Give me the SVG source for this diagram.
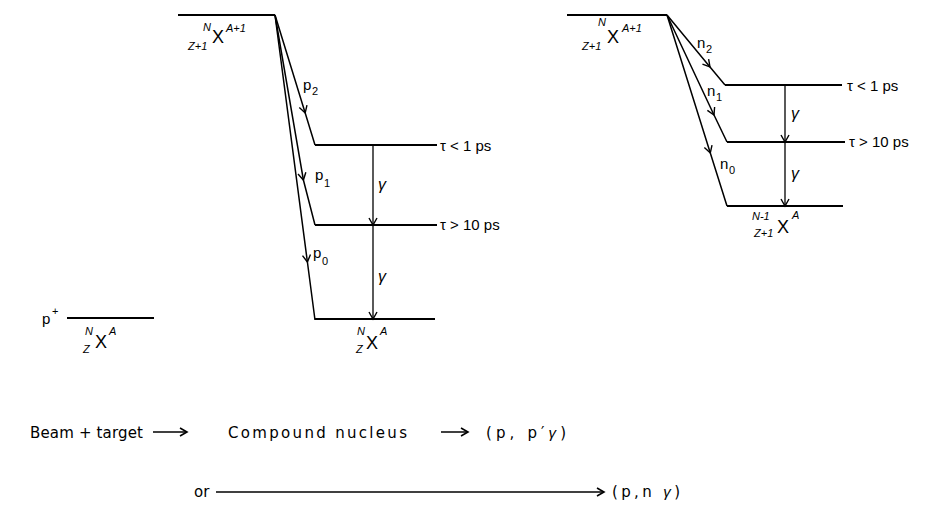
<svg xmlns="http://www.w3.org/2000/svg" width="926" height="512" viewBox="0 0 926 512">
<style>
.lvl{stroke:#000;stroke-width:2;fill:none}
.tr{stroke:#000;stroke-width:1.5;fill:none;marker-mid:url(#chev)}
.gm{stroke:#000;stroke-width:1.3;fill:none;marker-end:url(#chev)}
text{font-family:"Liberation Sans","DejaVu Sans",sans-serif;fill:#000}
.big{font-size:18px}
.sm{font-size:11px;font-style:italic}
.lab{font-size:15px}
.gl{font-size:16px;font-style:italic}
.eq{font-size:15px;font-family:"DejaVu Sans","Liberation Sans",sans-serif}
</style>
<defs>
<marker id="chev" markerUnits="userSpaceOnUse" markerWidth="14" markerHeight="14" viewBox="-10 -7 14 14" refX="0" refY="0" orient="auto">
<path d="M-7,-4 L0,0 L-7,4" fill="none" stroke="#000" stroke-width="1.4"/>
</marker>
<marker id="head" markerUnits="userSpaceOnUse" markerWidth="14" markerHeight="14" viewBox="-10 -7 14 14" refX="0" refY="0" orient="auto">
<path d="M-7,-4 L0,0 L-7,4" fill="none" stroke="#000" stroke-width="1.6"/>
</marker>
</defs>

<g id="levels-left">
<line class="lvl" x1="178" y1="15" x2="275" y2="15"/>
<line class="lvl" x1="315" y1="145" x2="437" y2="145"/>
<line class="lvl" x1="315" y1="225" x2="437" y2="225"/>
<line class="lvl" x1="315" y1="319" x2="435" y2="319"/>
<line class="lvl" x1="67" y1="318" x2="154" y2="318"/>
</g>

<g id="levels-right">
<line class="lvl" x1="567" y1="15" x2="667" y2="15"/>
<line class="lvl" x1="725" y1="85" x2="842" y2="85"/>
<line class="lvl" x1="727" y1="142" x2="845" y2="142"/>
<line class="lvl" x1="727" y1="206" x2="843" y2="206"/>
</g>

<g id="connectors">
<path class="tr" d="M275,15 L305.2,113 L315,145"/>
<path class="tr" d="M275,15 L303.4,180 L315,225"/>
<path class="tr" d="M275,15 L307.4,262 L315,320"/>
<path class="gm" d="M373,145 L373,225"/>
<path class="gm" d="M373,225 L373,319"/>
<path class="tr" d="M667,15 L710,67 L725,85"/>
<path class="tr" d="M667,15 L714,115 L727,142"/>
<path class="tr" d="M667,15 L710.3,153 L727,206"/>
<path class="gm" d="M785,85 L785,142"/>
<path class="gm" d="M785,142 L785,206"/>
</g>

<g id="label-compound-left">
<text class="sm" x="203" y="31">N</text>
<text class="big" x="212" y="43">X</text>
<text class="sm" x="226" y="32">A+1</text>
<text class="sm" x="188" y="50">Z+1</text>
</g>
<g id="label-compound-right">
<text class="sm" x="598" y="26">N</text>
<text class="big" x="607" y="43">X</text>
<text class="sm" x="622" y="32">A+1</text>
<text class="sm" x="582" y="50">Z+1</text>
</g>
<g id="label-target">
<text class="lab" x="42" y="324">p</text>
<text class="sm" x="52" y="315" style="font-style:normal">+</text>
<text class="sm" x="85" y="335">N</text>
<text class="big" x="95" y="348">X</text>
<text class="sm" x="109" y="335">A</text>
<text class="sm" x="83" y="353">Z</text>
</g>
<g id="label-final-left">
<text class="sm" x="357" y="335">N</text>
<text class="big" x="366" y="349">X</text>
<text class="sm" x="380" y="335">A</text>
<text class="sm" x="356" y="353">Z</text>
</g>
<g id="label-final-right">
<text class="sm" x="752" y="220">N-1</text>
<text class="big" x="777" y="233">X</text>
<text class="sm" x="792" y="219">A</text>
<text class="sm" x="754" y="237">Z+1</text>
</g>

<g id="particle-labels">
<text class="lab" x="303" y="90">p</text><text class="sm" x="312" y="95" style="font-style:normal">2</text>
<text class="lab" x="315" y="180">p</text><text class="sm" x="324" y="187" style="font-style:normal">1</text>
<text class="lab" x="313" y="258">p</text><text class="sm" x="322" y="265" style="font-style:normal">0</text>
<text class="lab" x="697" y="48">n</text><text class="sm" x="706" y="53" style="font-style:normal">2</text>
<text class="lab" x="707" y="96">n</text><text class="sm" x="716" y="101" style="font-style:normal">1</text>
<text class="lab" x="720" y="169">n</text><text class="sm" x="729" y="174" style="font-style:normal">0</text>
<text class="gl" x="378" y="190">γ</text>
<text class="gl" x="378" y="282">γ</text>
<text class="gl" x="791" y="119">γ</text>
<text class="gl" x="791" y="179">γ</text>
</g>

<g id="lifetimes">
<text class="lab" x="440" y="151">τ &lt; 1 ps</text>
<text class="lab" x="440" y="230">τ &gt; 10 ps</text>
<text class="lab" x="847" y="91">τ &lt; 1 ps</text>
<text class="lab" x="849" y="147">τ &gt; 10 ps</text>
</g>

<g id="equation">
<text class="eq" x="30" y="438" textLength="113" lengthAdjust="spacing">Beam + target</text>
<line x1="153" y1="432" x2="187" y2="432" stroke="#000" stroke-width="1.5" marker-end="url(#head)"/>
<text class="eq" x="228" y="438" textLength="179" lengthAdjust="spacing">Compound  nucleus</text>
<line x1="441" y1="432" x2="468" y2="432" stroke="#000" stroke-width="1.5" marker-end="url(#head)"/>
<text class="eq" x="486" y="438" textLength="80" lengthAdjust="spacing">(p, p′<tspan font-style="italic" font-family="Liberation Sans">γ</tspan>)</text>
<text class="eq" x="194" y="497">or</text>
<line x1="216" y1="492" x2="604" y2="492" stroke="#000" stroke-width="1.5" marker-end="url(#head)"/>
<text class="eq" x="612" y="497" textLength="68" lengthAdjust="spacing">(p,n <tspan font-style="italic" font-family="Liberation Sans">γ</tspan>)</text>
</g>
</svg>
